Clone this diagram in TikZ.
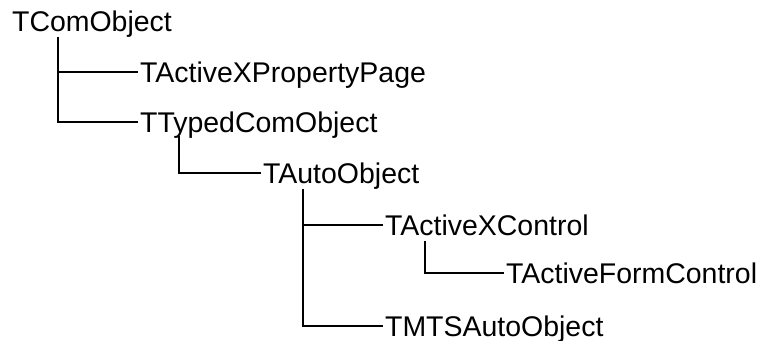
\documentclass[tikz,border=0pt]{standalone}
\usepackage{fontspec}
\setmainfont{Liberation Sans}
\begin{document}
\begin{tikzpicture}[
  cls/.style={anchor=west, inner sep=1pt, font=\fontsize{16.2}{19}\selectfont, text height=11.6pt, text depth=0pt},
  link/.style={line width=0.8pt, black}]
\useasboundingbox (0,0) rectangle (15.14,-6.82);
\node[cls] (com) at (0.20,-0.42) {TComObject};
\node[cls] (page) at (2.76,-1.44) {TActiveXPropertyPage};
\node[cls] (typed) at (2.76,-2.44) {TTypedComObject};
\node[cls] (auto) at (5.22,-3.46) {TAutoObject};
\node[cls] (axctl) at (7.66,-4.50) {TActiveXControl};
\node[cls] (form) at (10.08,-5.46) {TActiveFormControl};
\node[cls] (mts) at (7.66,-6.52) {TMTSAutoObject};
\draw[link] ([xshift=0.96cm, yshift=-2pt]com.south west) |- (page.west);
\draw[link] ([xshift=0.96cm, yshift=-2pt]com.south west) |- (typed.west);
\draw[link] ([xshift=0.82cm, yshift=-1pt]typed.south west) |- (auto.west);
\draw[link] ([xshift=0.84cm, yshift=-2pt]auto.south west) |- (axctl.west);
\draw[link] ([xshift=0.84cm, yshift=-2pt]auto.south west) |- (mts.west);
\draw[link] ([xshift=0.84cm, yshift=-2pt]axctl.south west) |- (form.west);
\end{tikzpicture}
\end{document}
